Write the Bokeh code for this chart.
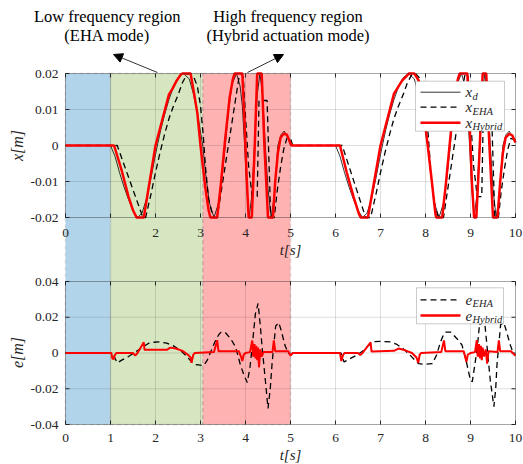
import math
from bokeh.plotting import figure
from bokeh.models import Range1d, BoxAnnotation, Label, Arrow, NormalHead
from bokeh.core.properties import value
from bokeh.embed import file_html
from bokeh.resources import INLINE

# ---------------- data ----------------
t_xd = [0, 1.0, 1.1, 1.2, 1.3, 1.4, 1.5, 1.6, 1.7, 1.8, 1.9, 2.0, 2.05, 2.12, 2.2, 2.3, 2.4, 2.5,
        2.62, 2.75, 2.85, 2.95, 3.05, 3.12, 3.2, 3.3, 3.4, 3.48, 3.55, 3.62, 3.7, 3.8, 3.88, 3.93,
        3.98, 4.03, 4.08, 4.14, 4.2, 4.26, 4.32, 4.38, 4.44, 4.5, 4.57, 4.64, 4.72, 4.79, 4.86,
        4.93, 5.0,
        6.0, 6.1, 6.2, 6.3, 6.4, 6.5, 6.6, 6.7, 6.8, 6.9, 7.0, 7.05, 7.12, 7.2, 7.3, 7.4, 7.5,
        7.62, 7.75, 7.85, 7.95, 8.05, 8.12, 8.2, 8.3, 8.4, 8.48, 8.55, 8.62, 8.7, 8.8, 8.88, 8.93,
        8.98, 9.03, 9.08, 9.14, 9.2, 9.26, 9.32, 9.38, 9.44, 9.5, 9.57, 9.64, 9.72, 9.79, 9.86,
        9.93, 10.0]
x_d = [0, 0, -0.003, -0.0075, -0.0115, -0.015, -0.018, -0.02, -0.0188, -0.0148, -0.009, -0.0025,
       0.0005, 0.0045, 0.0085, 0.0128, 0.0163, 0.0188, 0.02, 0.0185, 0.014, 0.0075, 0, -0.0085,
       -0.016, -0.02, -0.016, -0.0085, 0, 0.0095, 0.017, 0.02, 0.0165, 0.011, 0, -0.012, -0.02,
       -0.014, 0, 0.014, 0.02, 0.014, 0, -0.012, -0.02, -0.014, 0, 0.003, 0.004, 0.0025, 0,
       0, -0.003, -0.0075, -0.0115, -0.015, -0.018, -0.02, -0.0188, -0.0148, -0.009, -0.0025,
       0.0005, 0.0045, 0.0085, 0.0128, 0.0163, 0.0188, 0.02, 0.0185, 0.014, 0.0075, 0, -0.0085,
       -0.016, -0.02, -0.016, -0.0085, 0, 0.0095, 0.017, 0.02, 0.0165, 0.011, 0, -0.012, -0.02,
       -0.014, 0, 0.014, 0.02, 0.014, 0, -0.012, -0.02, -0.014, 0, 0.003, 0.004, 0.0025, 0.001]

t_xeha = [0, 1.15, 1.72, 1.78, 1.9, 2.0, 2.1, 2.2, 2.3, 2.4, 2.5, 2.6, 2.7, 2.78, 2.85, 2.93, 3.0,
          3.06, 3.11, 3.18, 3.26, 3.3, 3.37, 3.86, 3.9, 3.95, 4.0, 4.07, 4.15, 4.26, 4.3, 4.48,
          4.56, 4.64, 4.7, 4.78, 4.85, 4.92, 5.0, 5.05,
          6.15, 6.67, 6.78, 6.9, 7.0, 7.1, 7.2, 7.3, 7.4, 7.5, 7.6, 7.7, 7.78, 7.85, 7.93, 8.0,
          8.06, 8.11, 8.18, 8.26, 8.3, 8.4, 8.87, 8.9, 8.95, 9.0, 9.07, 9.15, 9.25, 9.29, 9.46,
          9.54, 9.62, 9.68, 9.76, 9.83, 9.9, 10.0]
x_eha = [0, 0, -0.02, -0.02, -0.0135, -0.0075, -0.002, 0.003, 0.0075, 0.011, 0.014, 0.0175, 0.0198,
         0.02, 0.019, 0.0165, 0.011, 0.003, -0.0058, -0.015, -0.019, -0.02, -0.02, 0.0193, 0.02,
         0.019, 0.008, -0.0058, -0.0142, -0.0142, 0.0125, 0.0125, -0.02, -0.02, -0.013, -0.006,
         -0.001, 0.002, 0.002, 0,
         0, -0.02, -0.02, -0.0135, -0.0075, -0.002, 0.003, 0.0075, 0.011, 0.014, 0.0175, 0.0198,
         0.02, 0.019, 0.0165, 0.011, 0.003, -0.0058, -0.015, -0.019, -0.02, -0.02, 0.0193, 0.02,
         0.019, 0.008, -0.0058, -0.0142, -0.0142, 0.0125, 0.0125, -0.02, -0.02, -0.013, -0.006,
         -0.001, 0.002, 0.0015]

t_xhyb = [0, 1.08, 1.25, 1.4, 1.5, 1.58, 1.74, 2.0, 2.3, 2.37, 2.47, 2.56, 2.6, 2.78, 2.85, 2.93,
          3.0, 3.1, 3.18, 3.22, 3.37, 3.45, 3.55, 3.65, 3.72, 3.76, 3.93, 3.98, 4.03, 4.07, 4.14,
          4.2, 4.26, 4.36, 4.42, 4.5, 4.61, 4.66, 4.72, 4.78, 4.85, 4.92, 4.97, 5.02,
          6.1, 6.25, 6.4, 6.52, 6.56, 6.72, 7.0, 7.3, 7.37, 7.48, 7.59, 7.63, 7.75, 7.85, 7.95,
          8.05, 8.15, 8.22, 8.24, 8.37, 8.45, 8.55, 8.65, 8.72, 8.76, 8.93, 8.98, 9.03, 9.08,
          9.13, 9.2, 9.27, 9.35, 9.42, 9.5, 9.6, 9.66, 9.72, 9.78, 9.86, 9.93, 10.0]
x_hyb = [0, 0, -0.007, -0.0142, -0.018, -0.02, -0.02, 0.0, 0.0142, 0.0156, 0.018, 0.0197, 0.02, 0.02,
         0.015, 0.009, 0.0, -0.011, -0.018, -0.02, -0.02, -0.011, 0.002, 0.0135, 0.0185, 0.02,
         0.02, 0.006, -0.01, -0.02, -0.02, -0.002, 0.02, 0.02, 0.0, -0.02, -0.02, -0.01, -0.002,
         0.0022, 0.0033, 0.003, 0.0015, 0.0,
         0, -0.0075, -0.0142, -0.019, -0.02, -0.02, 0.0, 0.0144, 0.0158, 0.018, 0.0194, 0.02,
         0.02, 0.018, 0.01, 0.0, -0.011, -0.019, -0.02, -0.02, -0.011, 0.002, 0.0135, 0.0185,
         0.02, 0.02, 0.006, -0.01, -0.02, -0.02, -0.002, 0.02, 0.02, 0.0, -0.02, -0.02, -0.01,
         -0.002, 0.0022, 0.0032, 0.0028, 0.0008]

t_eeha = [0, 1.05, 1.1, 1.15, 1.25, 1.4, 1.55, 1.7, 1.85, 1.95, 2.1, 2.25, 2.4, 2.55, 2.7, 2.8,
          2.9, 3.0, 3.07, 3.15, 3.25, 3.35, 3.42, 3.45, 3.55, 3.67, 3.78, 3.88, 3.96, 4.04, 4.1,
          4.15, 4.22, 4.28, 4.33, 4.37, 4.44, 4.5, 4.55, 4.59, 4.67, 4.74, 4.8, 4.88, 4.95, 5.0,
          5.05,
          6.12, 6.19, 6.3, 6.45, 6.6, 6.72, 6.85, 7.0, 7.22, 7.35, 7.5, 7.65, 7.78, 7.85, 8.0,
          8.15, 8.25, 8.33, 8.41, 8.45, 8.56, 8.7, 8.81, 8.9, 9.0, 9.04, 9.1, 9.15, 9.22, 9.27,
          9.32, 9.37, 9.44, 9.52, 9.56, 9.59, 9.67, 9.74, 9.8, 9.89, 9.95, 10.0]
e_eha = [0, 0, -0.003, -0.0055, -0.004, -0.002, 0.0005, 0.003, 0.0055, 0.006, 0.0062, 0.0055,
         0.004, 0.0015, -0.002, -0.005, -0.0065, -0.0068, -0.007, -0.004, 0.002, 0.008, 0.0107,
         0.0115, 0.0115, 0.008, 0.0033, -0.006, -0.012, -0.0165, -0.008, 0.004, 0.022, 0.0277,
         0.015, 0.003, -0.015, -0.031, -0.02, -0.006, 0.015, 0.017, 0.012, 0.004, 0.0, -0.001, 0,
         0, -0.005, -0.0035, -0.0015, 0.001, 0.004, 0.0063, 0.0065, 0.0062, 0.005, 0.0025,
         -0.001, -0.0045, -0.006, -0.0063, -0.006, -0.001, 0.006, 0.0107, 0.0117, 0.0117, 0.008,
         0.0045, -0.004, -0.0154, -0.016, -0.006, 0.003, 0.021, 0.027, 0.016, 0.003, -0.0154,
         -0.030, -0.02, -0.006, 0.016, 0.017, 0.012, 0.004, 0.0, -0.001]

t_ehyb = [0, 1.02, 1.04, 1.07, 1.1, 1.13, 1.5, 1.55, 1.6, 1.74, 1.755, 2.25, 2.33, 2.45, 2.6, 2.72,
          2.78, 2.8, 2.84, 2.87, 3.3, 3.37, 3.4, 3.85, 3.9, 3.93, 3.96, 4.0, 4.1, 4.15, 4.17, 4.2,
          4.22, 4.24, 4.26, 4.28, 4.3, 4.33, 4.36, 4.4, 4.6, 4.63, 4.66, 4.95, 5.0, 5.05,
          6.1, 6.13, 6.17, 6.2, 6.5, 6.55, 6.6, 6.78, 6.8, 7.3, 7.4, 7.55, 7.7, 7.8, 7.84, 7.87,
          7.9, 8.35, 8.41, 8.44, 8.85, 8.88, 8.91, 8.94, 9.0, 9.1, 9.14, 9.16, 9.19, 9.21, 9.23,
          9.25, 9.27, 9.3, 9.34, 9.37, 9.4, 9.6, 9.63, 9.66, 9.9, 10.0]
e_hyb = [0, 0, -0.003, -0.0035, -0.001, 0.0, 0.0, -0.0015, 0.0, 0.006, 0.0018, 0.0018, 0.003,
         0.0025, 0.0012, -0.001, -0.0025, -0.0055, -0.001, 0.0, 0.0005, 0.0072, 0.001, 0.001,
         -0.002, -0.0045, -0.001, 0.0, 0.0005, 0.007, -0.002, 0.005, -0.003, 0.004, -0.004, 0.003,
         -0.008, 0.002, -0.002, 0.0005, 0.0005, 0.007, 0.001, 0.001, -0.0015, 0.0,
         0, -0.0045, -0.001, 0, 0, -0.0012, 0, 0.006, 0.0009, 0.0012, 0.0025, 0.0015, 0.0,
         -0.0025, -0.0055, -0.001, 0, 0.0005, 0.007, 0.001, 0.001, -0.002, -0.005, -0.001, 0,
         0.0005, 0.0072, -0.002, 0.005, -0.003, 0.004, -0.004, 0.003, -0.002, 0.002, -0.006,
         0.001, 0.0005, 0.007, 0.001, 0.001, -0.0015]

region_bounds = [(0, 1), (1, 3.05), (3.05, 5)]
region_colors = [(0, 114, 189), (119, 172, 48), (255, 0, 0)]

x_ticks = [0, 1, 2, 3, 4, 5, 6, 7, 8, 9, 10]
x_labels_top = ["0", "", "2", "3", "4", "5", "6", "7", "8", "9", "10"]
x_labels_bot = ["0", "1", "2", "3", "4", "5", "6", "7", "8", "9", "10"]
y1_ticks = [-0.02, -0.01, 0, 0.01, 0.02]
y1_labels = ["-0.02", "-0.01", "0", "0.01", "0.02"]
y2_ticks = [-0.04, -0.02, 0, 0.02, 0.04]
y2_labels = ["-0.04", "-0.02", "0", "0.02", "0.04"]

note_lines = [["Low frequency region", "(EHA mode)"],
              ["High frequency region", "(Hybrid actuation mode)"]]

# ---------------- layout (pixels) ----------------
W, H = 523, 464
X0, X1 = 65, 515                 # pixel of t=0 and t=10
T0, T1 = 0.0, 10.0
PPT = (X1 - X0) / (T1 - T0)
TOP_BOX = (73, 0.02, 217, -0.02)  # (px of max, max, px of min, min)
BOT_BOX = (281, 0.04, 424, -0.04)
AX = "#262626"
SERIF = "Liberation Serif"


def t_at(px):
    return T0 + (px - X0) / PPT


def range_for(box):
    py_hi, v_hi, py_lo, v_lo = box
    k = (v_hi - v_lo) / (py_lo - py_hi)
    return Range1d(start=v_lo - (H - py_lo) * k, end=v_hi + py_hi * k), k


top_range, k_top = range_for(TOP_BOX)
bot_range, k_bot = range_for(BOT_BOX)

p = figure(width=W, height=H, x_range=Range1d(t_at(0), t_at(W)), y_range=Range1d(H, 0),
           output_backend="svg", toolbar_location=None,
           x_axis_location=None, y_axis_location=None,
           min_border=0, min_border_left=0, min_border_right=0,
           min_border_top=0, min_border_bottom=0)
p.grid.visible = False
p.outline_line_color = None
p.background_fill_color = "white"
p.border_fill_color = "white"
p.extra_y_ranges = {"top": top_range, "bot": bot_range}

# shaded operating regions spanning both panels
for (a, b), c in zip(region_bounds, region_colors):
    p.add_layout(BoxAnnotation(left=a, right=b, top=TOP_BOX[0], bottom=BOT_BOX[2],
                               fill_color=c, fill_alpha=0.3, line_color="#9a9a9a",
                               line_width=1.5, line_dash="4 3", level="underlay"))


def panel(rng, k, y_ticks, y_labels, x_labels, label_py, ylab, ylab_py):
    lo, hi = y_ticks[0], y_ticks[-1]
    n = len(x_ticks)
    # grid
    p.segment(x0=x_ticks, y0=[lo] * n, x1=x_ticks, y1=[hi] * n, y_range_name=rng,
              line_color=AX, line_alpha=0.15, line_width=1)
    p.segment(x0=T0, y0=y_ticks, x1=T1, y1=y_ticks, y_range_name=rng,
              line_color=AX, line_alpha=0.15, line_width=1)
    # inward ticks (4 px)
    dy = 4 * k
    dx = 4 / PPT
    p.segment(x0=x_ticks, y0=[lo] * n, x1=x_ticks, y1=[lo + dy] * n, y_range_name=rng,
              line_color=AX, line_width=1)
    p.segment(x0=x_ticks, y0=[hi] * n, x1=x_ticks, y1=[hi - dy] * n, y_range_name=rng,
              line_color=AX, line_width=1)
    p.segment(x0=T0, y0=y_ticks, x1=T0 + dx, y1=y_ticks, y_range_name=rng,
              line_color=AX, line_width=1)
    p.segment(x0=T1, y0=y_ticks, x1=T1 - dx, y1=y_ticks, y_range_name=rng,
              line_color=AX, line_width=1)
    # axes box
    p.add_layout(BoxAnnotation(left=T0, right=T1, bottom=lo, top=hi, y_range_name=rng,
                               fill_alpha=0, line_color=AX, line_width=1, level="annotation"))
    # tick labels
    p.text(x=[t_at(X0 - 7)] * len(y_ticks), y=y_ticks, text=y_labels, y_range_name=rng,
           text_font=value(SERIF), text_font_size=value("13.5px"), text_color=AX,
           text_align="right", text_baseline="middle")
    xs = [t for t, s in zip(x_ticks, x_labels) if s]
    ls = [s for s in x_labels if s]
    p.text(x=xs, y=[label_py] * len(xs), text=ls,
           text_font=value(SERIF), text_font_size=value("13.5px"), text_color=AX,
           text_align="center", text_baseline="middle")
    # axis labels
    p.add_layout(Label(x=(T0 + T1) / 2, y=label_py + 17, text="t[s]", text_font=SERIF,
                       text_font_style="italic", text_font_size="15px", text_color=AX,
                       text_align="center", text_baseline="middle"))
    p.add_layout(Label(x=t_at(17), y=ylab_py, text=ylab, angle=math.pi / 2, text_font=SERIF,
                       text_font_style="italic", text_font_size="16px", text_color=AX,
                       text_align="center", text_baseline="middle"))


panel("top", k_top, y1_ticks, y1_labels, x_labels_top, 232, "x[m]", 145)
panel("bot", k_bot, y2_ticks, y2_labels, x_labels_bot, 437.5, "e[m]", 352)

# data
p.line(t_xd, x_d, y_range_name="top", line_color="black", line_width=0.8)
p.line(t_xeha, x_eha, y_range_name="top", line_color="black", line_width=1.3, line_dash="6 4")
p.line(t_xhyb, x_hyb, y_range_name="top", line_color="#ff0000", line_width=2.5)
p.line(t_eeha, e_eha, y_range_name="bot", line_color="black", line_width=1.3, line_dash="6 4")
p.line(t_ehyb, e_hyb, y_range_name="bot", line_color="#ff0000", line_width=2.0)


def legend(box, rows):
    l, r, tp, bt = box
    p.add_layout(BoxAnnotation(left=t_at(l), right=t_at(r), top=tp, bottom=bt,
                               fill_color="white", fill_alpha=1.0, line_color=AX,
                               line_width=0.8, level="overlay"))
    for (py, main, sub, color, width, dash) in rows:
        p.add_layout(Arrow(start=None, end=None, x_start=t_at(420), y_start=py,
                           x_end=t_at(460), y_end=py, line_color=color, line_width=width,
                           line_dash=dash, level="overlay"))
        p.add_layout(Label(x=t_at(465), y=py, text=main, text_font=SERIF,
                           text_font_style="italic", text_font_size="15px", text_color=AX,
                           text_baseline="middle", level="overlay"))
        p.add_layout(Label(x=t_at(472), y=py + 4, text=sub, text_font=SERIF,
                           text_font_style="italic", text_font_size="10.5px", text_color=AX,
                           text_baseline="middle", level="overlay"))


legend((415, 504, 80.7, 130.7),
       [(91.7, "x", "d", "black", 0.8, "solid"),
        (106.7, "x", "EHA", "black", 1.3, "6 4"),
        (122.3, "x", "Hybrid", "#ff0000", 2.5, "solid")])
legend((416, 503, 287.3, 323.3),
       [(299.3, "e", "EHA", "black", 1.3, "6 4"),
        (315.0, "e", "Hybrid", "#ff0000", 2.5, "solid")])

# region notes with arrows
for lines, cx in zip(note_lines, [106.7, 287.5]):
    for s, py in zip(lines, [16, 35]):
        p.add_layout(Label(x=t_at(cx), y=py, text=s, text_font=SERIF, text_font_size="16.5px",
                           text_color="black", text_align="center", text_baseline="middle"))
for (sx, sy, ex, ey) in [(157, 72, 113, 54), (247, 72, 283, 54)]:
    p.add_layout(Arrow(x_start=t_at(sx), y_start=sy, x_end=t_at(ex), y_end=ey,
                       line_color="black", line_width=0.8,
                       end=NormalHead(size=9, fill_color="black", line_color="black")))

open("out.html", "w").write(file_html(p, INLINE))
